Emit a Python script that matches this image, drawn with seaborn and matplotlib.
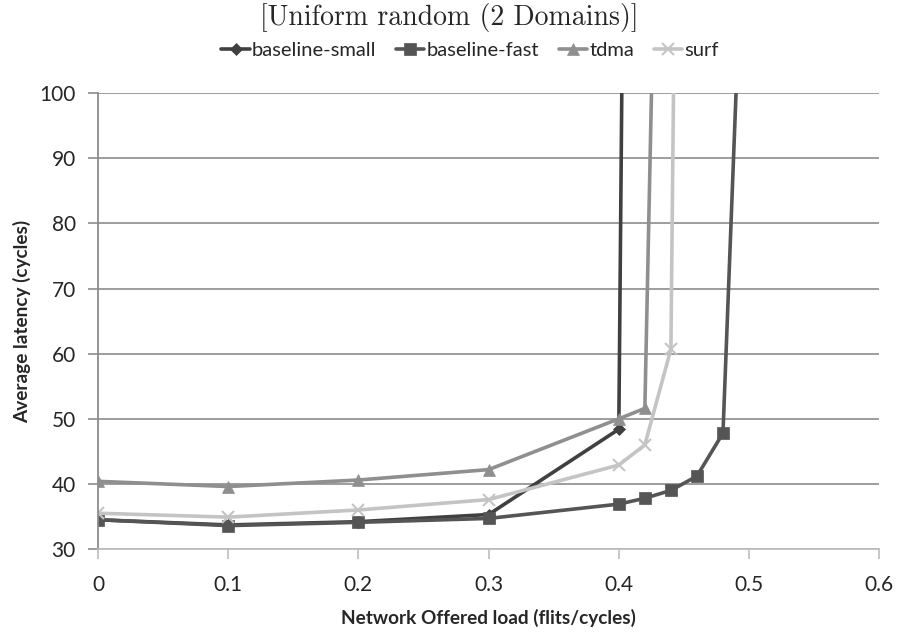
import matplotlib
matplotlib.use("Agg")
import matplotlib.pyplot as plt
import seaborn as sns
import pandas as pd

# data
x_small = [0.0, 0.1, 0.2, 0.3, 0.4, 0.42]
y_small = [34.5, 33.7, 34.2, 35.3, 48.4, 500]
x_fast = [0.0, 0.1, 0.2, 0.3, 0.4, 0.42, 0.44, 0.46, 0.48, 0.5]
y_fast = [34.5, 33.6, 34.1, 34.7, 36.9, 37.8, 39.0, 41.2, 47.8, 152]
x_tdma = [0.0, 0.1, 0.2, 0.3, 0.4, 0.42, 0.44]
y_tdma = [40.4, 39.6, 40.6, 42.2, 50.0, 51.6, 242]
x_surf = [0.0, 0.1, 0.2, 0.3, 0.4, 0.42, 0.44, 0.46]
y_surf = [35.5, 34.9, 36.0, 37.6, 42.9, 46.0, 60.7, 454]
series_names = ["baseline-small", "baseline-fast", "tdma", "surf"]
x_ticks = [0, 0.1, 0.2, 0.3, 0.4, 0.5, 0.6]
x_ticklabels = ["0", "0.1", "0.2", "0.3", "0.4", "0.5", "0.6"]
y_ticks = [30, 40, 50, 60, 70, 80, 90, 100]

sns.set_style("white")
plt.rcParams["font.family"] = ["Lato", "DejaVu Sans"]

fig = plt.figure(figsize=(8.99, 6.34), dpi=100)
ax = fig.add_axes([0.109, 0.134, 0.869, 0.719])

colors = ["#404040", "#555555", "#8f8f8f", "#c4c4c4"]
markers = ["D", "s", "^", "x"]
msizes = [6, 8, 8, 9]
data = [(x_small, y_small), (x_fast, y_fast), (x_tdma, y_tdma), (x_surf, y_surf)]

for name, (xs, ys), c, m, ms in zip(series_names, data, colors, markers, msizes):
    df = pd.DataFrame({"x": xs, "y": ys})
    sns.lineplot(data=df, x="x", y="y", ax=ax, color=c, marker=m, markersize=ms,
                 linewidth=2.6, markeredgecolor=c, markeredgewidth=1.5 if m == "x" else 0.5,
                 label=name, sort=False)

ax.set_xlim(0, 0.6)
ax.set_ylim(30, 100)
ax.set_xticks(x_ticks)
ax.set_xticklabels(x_ticklabels)
ax.set_yticks(y_ticks)
ax.yaxis.grid(True, color="#8c8c8c", linewidth=1.2)
ax.xaxis.grid(False)
for s in ["top", "right"]:
    ax.spines[s].set_visible(False)
ax.spines["left"].set_color("#8c8c8c")
ax.spines["left"].set_linewidth(1.3)
ax.spines["bottom"].set_color("#bdbdbd")
ax.spines["bottom"].set_linewidth(1.3)
ax.tick_params(axis="y", length=7, width=1.2, color="#8c8c8c", labelsize=15, pad=9, left=True, direction="out")
ax.tick_params(axis="x", length=7, width=1.2, color="#bdbdbd", labelsize=15, pad=12, bottom=True, direction="out")
ax.set_xlabel("Network Offered load (flits/cycles)", fontsize=13.7, fontweight="bold", labelpad=10)
ax.set_ylabel("Average latency (cycles)", fontsize=13.7, fontweight="bold", labelpad=6)

fig.text(0.5, 0.995, "[Uniform random (2 Domains)]", ha="center", va="top",
         family=["cmr10", "DejaVu Serif"], fontsize=20)

leg = ax.legend(loc="center", bbox_to_anchor=(0.523, 0.921), bbox_transform=fig.transFigure,
                ncol=4, frameon=False, fontsize=14.5, handlelength=1.4, handletextpad=0.1,
                columnspacing=1.0, borderaxespad=0.0)

fig.savefig("out.png", dpi=100)
